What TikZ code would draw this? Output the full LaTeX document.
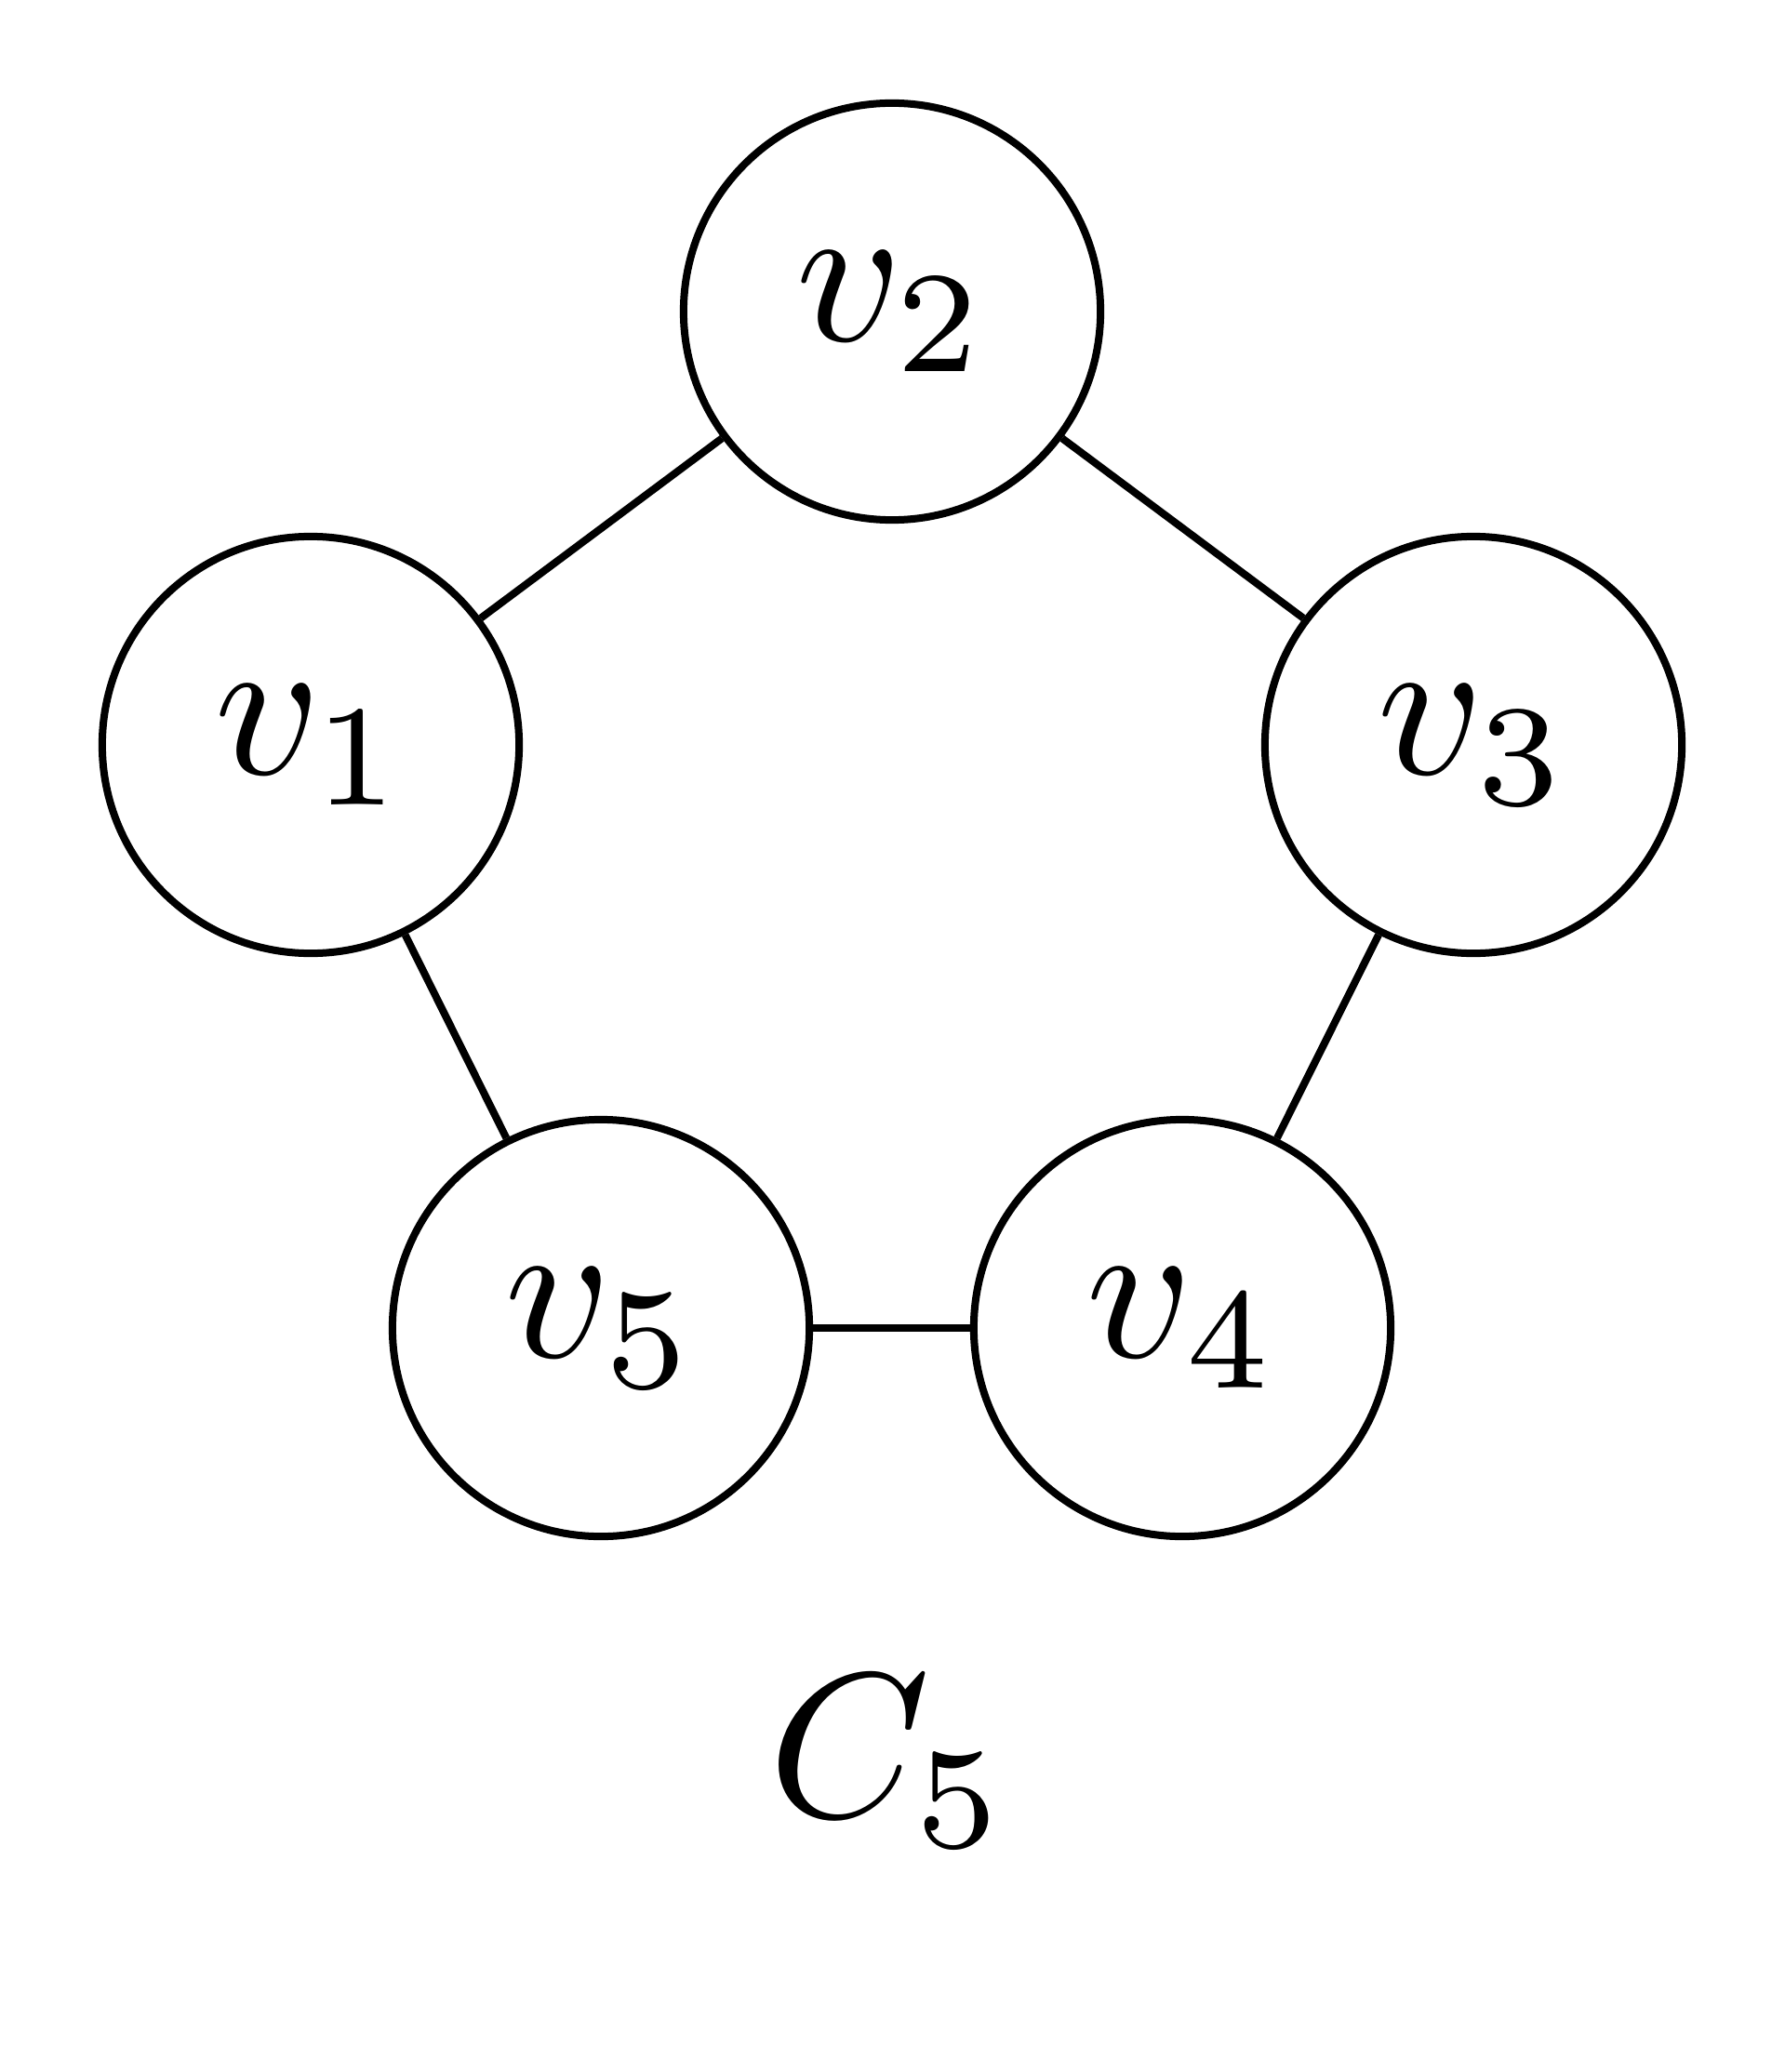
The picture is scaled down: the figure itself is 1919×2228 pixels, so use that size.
\documentclass[tikz,border=0pt]{standalone}
\usepackage{graphicx}
\newcommand{\vlabel}[1]{\scalebox{6.3}{$#1$}}
\begin{document}
\begin{tikzpicture}[x=0.01cm,y=-0.01cm,
  vert/.style={circle,draw,line width=0.08cm,minimum size=4.48cm,inner sep=0pt},
  edge/.style={line width=0.08cm}]
\useasboundingbox (0,0) rectangle (1919,2228);
\node[vert] (v2) at (959,335) {\vlabel{v_2}};
\node[vert] (v1) at (334,801) {\vlabel{v_1}};
\node[vert] (v3) at (1584,801) {\vlabel{v_3}};
\node[vert] (v5) at (646,1428) {\vlabel{v_5}};
\node[vert] (v4) at (1271,1428) {\vlabel{v_4}};
\draw[edge] (v1) -- (v2);
\draw[edge] (v2) -- (v3);
\draw[edge] (v3) -- (v4);
\draw[edge] (v4) -- (v5);
\draw[edge] (v5) -- (v1);
\node[anchor=base,inner sep=0pt] (c5) at (955,1953) {\vlabel{C_5}};
\end{tikzpicture}
\end{document}
